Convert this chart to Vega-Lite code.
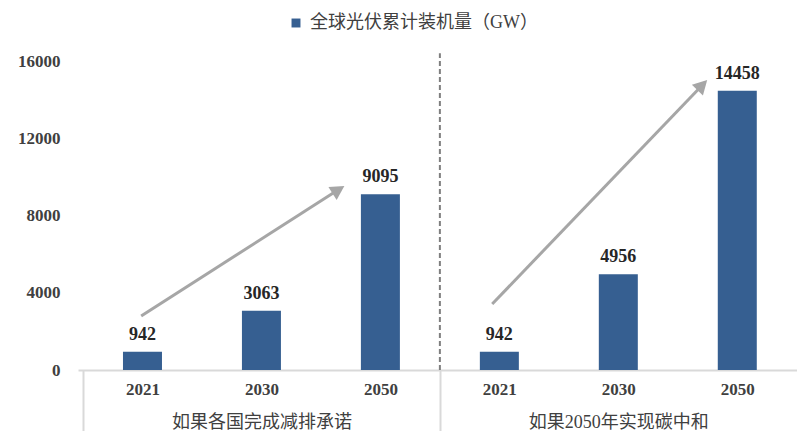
{
  "$schema": "https://vega.github.io/schema/vega-lite/v6.json",
  "width": 719,
  "height": 309,
  "autosize": "none",
  "padding": {"left": 78, "top": 61, "right": 0, "bottom": 61},
  "background": "white",
  "config": {
    "view": {"stroke": null},
    "axis": {"grid": false, "title": null}
  },
  "datasets": {
    "bars": [
      {"pos": 0.5, "year": "2021", "scenario": "如果各国完成减排承诺", "value": 942},
      {"pos": 1.5, "year": "2030", "scenario": "如果各国完成减排承诺", "value": 3063},
      {"pos": 2.5, "year": "2050", "scenario": "如果各国完成减排承诺", "value": 9095},
      {"pos": 3.5, "year": "2021", "scenario": "如果2050年实现碳中和", "value": 942},
      {"pos": 4.5, "year": "2030", "scenario": "如果2050年实现碳中和", "value": 4956},
      {"pos": 5.5, "year": "2050", "scenario": "如果2050年实现碳中和", "value": 14458}
    ],
    "arrows": [
      {"g": "A", "x": 0.489, "y": 2796},
      {"g": "A", "x": 2.126, "y": 9253},
      {"g": "B", "x": 3.44, "y": 3417},
      {"g": "B", "x": 5.189, "y": 14643}
    ],
    "heads": [
      {"g": "A", "x": 2.197, "y": 9528},
      {"g": "B", "x": 5.247, "y": 15016}
    ],
    "divider": [
      {"x": 3, "y": 0, "y2": 16400}
    ]
  },
  "resolve": {"axis": {"x": "independent"}},
  "layer": [
    {
      "data": {"name": "bars"},
      "mark": {"type": "bar", "width": 39},
      "encoding": {
        "x": {
          "field": "pos", "type": "quantitative",
          "scale": {"domain": [0, 5.96], "nice": false, "zero": false},
          "axis": {
            "orient": "bottom",
            "values": [0.5, 1.5, 2.5, 3.5, 4.5, 5.5],
            "labelExpr": "['2021','2030','2050'][round(datum.value - 0.5) % 3]",
            "ticks": false, "domain": false,
            "labelFlush": false, "labelOverlap": false, "labelBound": false,
            "labelFont": "Liberation Serif", "labelFontSize": 17, "labelFontWeight": "bold",
            "labelColor": "#404040", "labelPadding": 11, "labelBaseline": "top"
          }
        },
        "y": {
          "field": "value", "type": "quantitative",
          "scale": {"domain": [0, 16000], "nice": false},
          "axis": {
            "values": [0, 4000, 8000, 12000, 16000],
            "format": "d",
            "ticks": false, "domain": false,
            "labelFont": "Liberation Serif", "labelFontSize": 17, "labelFontWeight": "bold",
            "labelColor": "#404040", "labelPadding": 18
          }
        },
        "color": {
          "datum": "全球光伏累计装机量（GW）", "type": "nominal",
          "scale": {"range": ["#365f91"]},
          "legend": {
            "orient": "none", "legendX": 209, "legendY": -47, "title": null,
            "symbolType": "square", "symbolSize": 80, "padding": 0,
            "labelFont": "Liberation Serif, Noto Sans CJK SC", "labelFontSize": 18,
            "labelColor": "#404040", "labelOffset": 5, "labelLimit": 500
          }
        }
      }
    },
    {
      "data": {"name": "bars"},
      "mark": {"type": "text", "baseline": "alphabetic", "dy": -12, "font": "Liberation Serif", "fontSize": 18, "fontWeight": "bold", "color": "#262626"},
      "encoding": {
        "x": {"field": "pos", "type": "quantitative", "scale": {"domain": [0, 5.96], "nice": false, "zero": false}, "axis": null},
        "y": {"field": "value", "type": "quantitative", "scale": {"domain": [0, 16000], "nice": false}},
        "text": {"field": "value", "type": "quantitative", "format": "d"}
      }
    },
    {
      "data": {"name": "arrows"},
      "mark": {"type": "line", "color": "#a6a6a6", "strokeWidth": 3, "strokeCap": "butt"},
      "encoding": {
        "x": {
          "field": "x", "type": "quantitative",
          "scale": {"domain": [0, 5.96], "nice": false, "zero": false},
          "axis": {
            "orient": "bottom",
            "values": [1.5, 4.5],
            "labelExpr": "datum.value < 3 ? '如果各国完成减排承诺' : '如果2050年实现碳中和'",
            "ticks": false, "domain": false,
            "labelFlush": false, "labelOverlap": false, "labelBound": false,
            "labelFont": "Liberation Serif, Noto Sans CJK SC", "labelFontSize": 18,
            "labelColor": "#404040", "labelPadding": 43, "labelBaseline": "top", "labelLimit": 500
          }
        },
        "y": {"field": "y", "type": "quantitative", "scale": {"domain": [0, 16000], "nice": false}},
        "detail": {"field": "g"}
      }
    },
    {
      "data": {"name": "heads"},
      "mark": {"type": "point", "shape": "M0,0L0.55,1L-0.55,1Z", "filled": true, "opacity": 1, "size": 784, "color": "#a6a6a6", "strokeWidth": 0},
      "encoding": {
        "x": {
          "field": "x", "type": "quantitative",
          "scale": {"domain": [0, 5.96], "nice": false, "zero": false},
          "axis": {
            "orient": "bottom",
            "values": [0, 3],
            "labels": false,
            "ticks": true, "tickSize": 61, "tickWidth": 2, "tickColor": "#d9d9d9",
            "domain": true, "domainColor": "#d9d9d9", "domainWidth": 2
          }
        },
        "y": {"field": "y", "type": "quantitative", "scale": {"domain": [0, 16000], "nice": false}},
        "angle": {"condition": {"test": "datum.g === 'A'", "value": 57.7}, "value": 44.2}
      }
    },
    {
      "data": {"name": "divider"},
      "mark": {"type": "rule", "color": "#7f7f7f", "strokeWidth": 2, "strokeDash": [5, 3], "clip": false},
      "encoding": {
        "x": {"field": "x", "type": "quantitative", "scale": {"domain": [0, 5.96], "nice": false, "zero": false}, "axis": null},
        "y": {"field": "y", "type": "quantitative", "scale": {"domain": [0, 16000], "nice": false}},
        "y2": {"field": "y2"}
      }
    }
  ]
}
